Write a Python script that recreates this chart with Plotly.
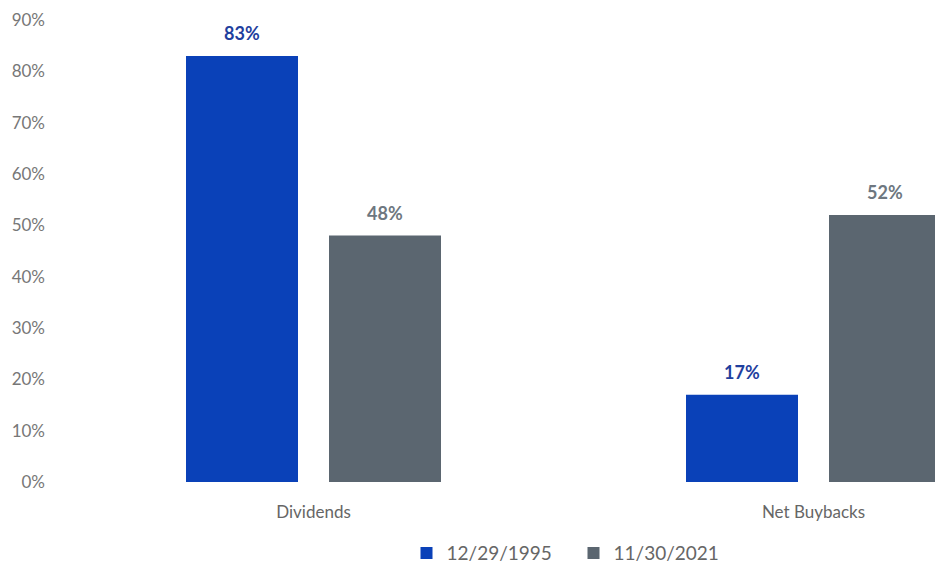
import plotly.graph_objects as go

categories = ["Dividends", "Net Buybacks"]
series_names = ["12/29/1995", "11/30/2021"]
values_1995 = [83, 17]
values_2021 = [48, 52]
tick_vals = [0, 10, 20, 30, 40, 50, 60, 70, 80, 90]
tick_text = [f"{v}%" for v in tick_vals]

bar_colors = ["#0a41b8", "#5b6670"]
label_colors = ["#1f3f9e", "#6e7780"]
bar_width = 0.224
offsets = [-0.255, 0.031]

xs = list(range(len(categories)))
fig = go.Figure()
annotations = []
for name, vals, col, lcol, off in zip(series_names, [values_1995, values_2021], bar_colors, label_colors, offsets):
    fig.add_trace(go.Bar(
        x=xs, y=vals, name=name, width=bar_width, offset=off,
        marker=dict(color=col, line=dict(width=0)),
    ))
    for xi, v in zip(xs, vals):
        annotations.append(dict(
            x=xi + off + bar_width / 2, y=v, xref="x", yref="y",
            text=f"<b>{v}%</b>", showarrow=False, yanchor="bottom", yshift=10,
            font=dict(family="Lato, Open Sans, sans-serif", size=18, color=lcol),
        ))

fig.update_layout(
    width=935, height=566,
    margin=dict(l=60, r=0, t=20, b=84, autoexpand=False),
    paper_bgcolor="white", plot_bgcolor="white",
    font=dict(family="Lato, Open Sans, sans-serif", color="#666"),
    showlegend=True,
    legend=dict(orientation="h", x=0.396, y=-0.154, xanchor="left", yanchor="middle",
                font=dict(size=19, color="#666"), itemwidth=30,
                entrywidth=122, entrywidthmode="pixels"),
    annotations=annotations,
    xaxis=dict(
        range=[-0.507, 1.243], tickvals=xs, ticktext=categories,
        showgrid=False, zeroline=False, showline=False, ticks="",
        tickfont=dict(size=17, color="#666"), ticklabelstandoff=18, automargin=False,
    ),
    yaxis=dict(
        range=[0, 90], tickvals=tick_vals, ticktext=tick_text,
        showgrid=False, zeroline=False, showline=False, ticks="",
        tickfont=dict(size=17, color="#777"), ticklabelstandoff=14, automargin=False,
    ),
)
fig.write_html("out.html")
